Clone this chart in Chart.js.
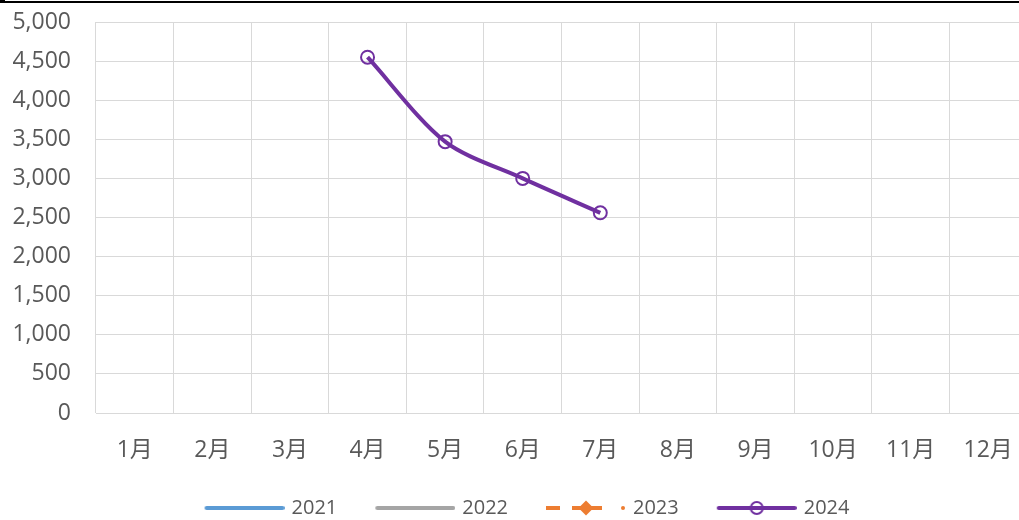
<!DOCTYPE html>
<html>
<head>
<meta charset="utf-8">
<script src="https://cdn.jsdelivr.net/npm/chart.js@4/dist/chart.umd.min.js"></script>
<style>
  html, body { margin: 0; padding: 0; background: #fff; overflow: hidden; }
  #wrap { position: relative; width: 1019px; height: 520px; overflow: hidden; }
  #box { position: absolute; left: 0; top: 0; width: 1037px; height: 520px; }
  #topline { position: absolute; left: 0; top: 1px; width: 1019px; height: 0; border-top: 2px solid #000; }
  #corner { position: absolute; left: 0; top: 0; width: 5px; height: 3px; background: #000; }
</style>
</head>
<body>
<div id="wrap">
  <div id="box"><canvas id="c" width="1037" height="520"></canvas></div>
  <div id="topline"></div>
  <div id="corner"></div>
</div>
<script>
// Monthly categories and yearly series
const months = ['1月', '2月', '3月', '4月', '5月', '6月', '7月', '8月', '9月', '10月', '11月', '12月'];
const years = ['2021', '2022', '2023', '2024'];
const values2021 = [null, null, null, null, null, null, null, null, null, null, null, null];
const values2022 = [null, null, null, null, null, null, null, null, null, null, null, null];
const values2023 = [null, null, null, null, null, null, null, null, null, null, null, null];
const values2024 = [null, null, null, 4550, 3470, 3000, 2560, null, null, null, null, null];
const yTicks = [0, 500, 1000, 1500, 2000, 2500, 3000, 3500, 4000, 4500, 5000];

const FONT = "'Open Sans', 'Noto Sans CJK JP', sans-serif";
const TEXT = '#595959';
const GRID = '#d9d9d9';

// Legend symbols: an 80px line sample (with marker) at the right end of a wider transparent canvas
const SYM_BOX = 105;          // legend box width used for spacing
const SYM_W = SYM_BOX + 6;    // canvas width, centred on the box
function symbol(color, kind) {
  const c = document.createElement('canvas');
  c.width = SYM_W; c.height = 20;
  const g = c.getContext('2d');
  g.translate(SYM_W - 80, 0);
  g.strokeStyle = color;
  g.fillStyle = color;
  g.lineWidth = 4;
  if (kind === 'dashDiamond') {
    g.lineCap = 'butt';
    g.beginPath(); g.moveTo(0, 10); g.lineTo(14, 10); g.stroke();
    g.beginPath(); g.moveTo(26, 10); g.lineTo(56, 10); g.stroke();
    g.beginPath(); g.moveTo(40, 2.5); g.lineTo(47.5, 10); g.lineTo(40, 17.5); g.lineTo(32.5, 10); g.closePath(); g.fill();
    g.beginPath(); g.arc(77, 10, 2, 0, Math.PI * 2); g.fill();
  } else {
    g.lineCap = 'round';
    g.beginPath(); g.moveTo(2, 10); g.lineTo(78, 10); g.stroke();
    if (kind === 'circle') {
      g.lineWidth = 2;
      g.beginPath(); g.arc(40, 10, 6, 0, Math.PI * 2);
      g.fillStyle = '#fff'; g.fill(); g.stroke();
      g.lineWidth = 4;
      g.beginPath(); g.moveTo(34, 10); g.lineTo(46, 10); g.stroke();
    }
  }
  return c;
}
const legendSymbols = [
  symbol('#5B9BD5', 'line'),
  symbol('#A5A5A5', 'line'),
  symbol('#ED7D31', 'dashDiamond'),
  symbol('#7030A0', 'circle')
];

// Nudge the legend to its final place after layout
const legendShift = {
  id: 'legendShift',
  afterLayout(chart) {
    const lg = chart.legend;
    const dx = -4, dy = 8;
    lg.left += dx; lg.right += dx;
    lg.top += dy; lg.bottom += dy;
  }
};

new Chart(document.getElementById('c'), {
  type: 'line',
  data: {
    labels: months,
    datasets: [
      { label: years[0], data: values2021, borderColor: '#5B9BD5', backgroundColor: '#5B9BD5', borderWidth: 4, pointRadius: 0 },
      { label: years[1], data: values2022, borderColor: '#A5A5A5', backgroundColor: '#A5A5A5', borderWidth: 4, pointRadius: 0 },
      { label: years[2], data: values2023, borderColor: '#ED7D31', backgroundColor: '#ED7D31', borderWidth: 4, borderDash: [14, 12], pointStyle: 'rectRot', pointRadius: 6 },
      { label: years[3], data: values2024, borderColor: '#7030A0', backgroundColor: 'rgba(0,0,0,0)', borderWidth: 4,
        pointStyle: 'circle', pointRadius: 6.5, pointBorderWidth: 2, pointBorderColor: '#7030A0', pointBackgroundColor: 'rgba(0,0,0,0)',
        tension: 0.3 }
    ]
  },
  options: {
    responsive: false,
    animation: false,
    locale: 'en-US',
    layout: { padding: { top: 22, right: 3, left: 0, bottom: 0 } },
    plugins: {
      tooltip: { enabled: false },
      legend: {
        position: 'bottom',
        labels: {
          usePointStyle: true,
          pointStyleWidth: SYM_BOX,
          padding: 10,
          color: TEXT,
          font: { family: FONT, size: 20 },
          generateLabels(chart) {
            return chart.data.datasets.map((ds, i) => ({
              text: ds.label,
              pointStyle: legendSymbols[i],
              fillStyle: ds.borderColor,
              strokeStyle: ds.borderColor,
              lineWidth: 0,
              fontColor: TEXT,
              hidden: false,
              datasetIndex: i
            }));
          }
        }
      }
    },
    scales: {
      x: {
        offset: true,
        grid: { color: GRID, lineWidth: 1, offset: true, drawTicks: true, tickLength: 24, tickColor: 'rgba(0,0,0,0)' },
        border: { color: GRID, width: 1 },
        ticks: { color: TEXT, font: { family: FONT, size: 23 }, padding: 0, maxRotation: 0, autoSkip: false },
        afterFit(s) { s.height = 67; }
      },
      y: {
        min: 0, max: 5000,
        afterBuildTicks(s) { s.ticks = yTicks.map(v => ({ value: v })); },
        grid: { color: GRID, lineWidth: 1, drawTicks: true, tickLength: 25, tickColor: 'rgba(0,0,0,0)' },
        border: { display: false },
        ticks: { color: TEXT, font: { family: FONT, size: 23 }, padding: 0 },
        afterFit(s) { s.width = 96; }
      }
    }
  },
  plugins: [legendShift]
});
</script>
</body>
</html>
